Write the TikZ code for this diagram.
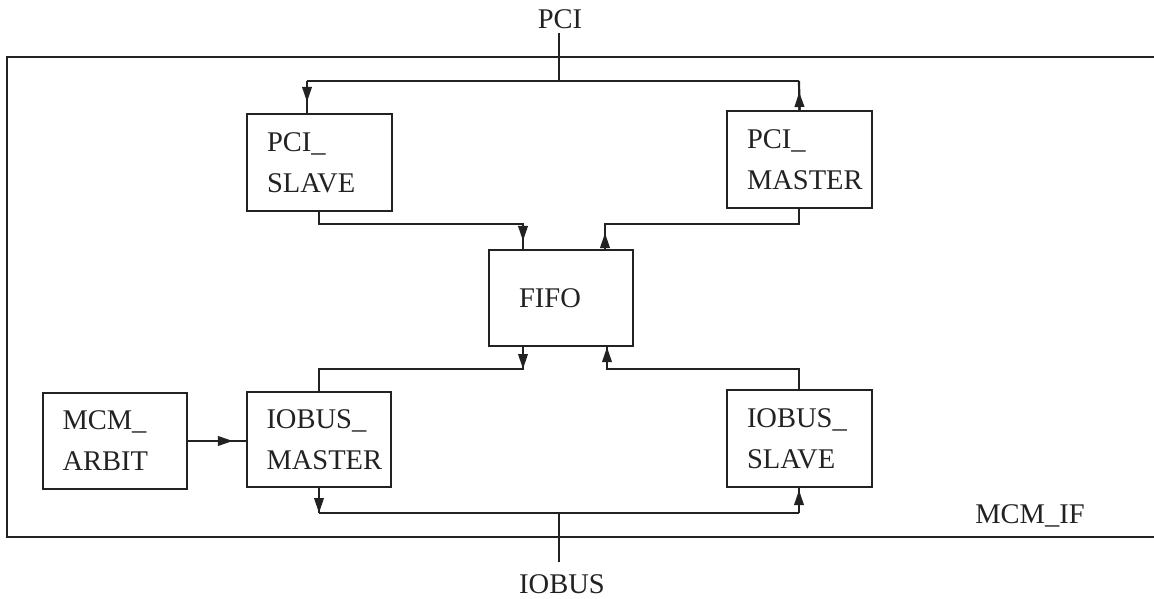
\documentclass[tikz,border=0pt]{standalone}
\usepackage{fontspec}
\setmainfont{Liberation Serif}
\usetikzlibrary{arrows.meta}
\definecolor{ink}{HTML}{222222}
\begin{document}
\begin{tikzpicture}[x=1pt,y=-1pt,
  line width=2.2pt, line join=miter, color=ink,
  font=\fontsize{28.5}{41}\selectfont,
  blk/.style={draw, minimum width=145pt, minimum height=97pt, inner sep=0pt,
    align=left, text width=105pt},
  lbl/.style={inner sep=0pt, anchor=base},
  tip/.style={-{Triangle[length=15pt,width=9.5pt]}},
]
\useasboundingbox (0,0) rectangle (1154,599);
% outer box MCM_IF
\node[draw, minimum width=1155pt, minimum height=480pt, inner sep=0pt] (mcmif) at (584.5,297) {};
\node[lbl] (lmcmif) at (1030,523) {MCM\_IF};
% labels
\node[lbl] (lpci) at (560,29) {PCI};
\node[lbl] (liobus) at (562,593) {IOBUS};
% blocks
\node[blk] (ps) at (319.5,162.5) {PCI\_\\SLAVE};
\node[blk] (pm) at (799.5,159.5) {PCI\_\\MASTER};
\node[blk, minimum width=144pt, minimum height=96pt, align=center, text width=100pt] (fifo) at (561,298) {\hspace*{-22pt}FIFO};
\node[blk, minimum width=144pt, minimum height=95pt] (im) at (319,439.5) {IOBUS\_\\MASTER};
\node[blk, minimum width=144pt, minimum height=96pt] (ar) at (115,441) {MCM\_\\ARBIT};
\node[blk] (is) at (799.5,438.5) {IOBUS\_\\SLAVE};
% helper coordinates
\coordinate (pcitop) at (559,33);
\coordinate (pcibus) at (559,81);
\coordinate (psbus) at (307,81);
\coordinate (pmbus) at (799,81);
\coordinate (iotop) at (559,562);
\coordinate (iobus) at (559,513);
\coordinate (imbus) at (319,513);
\coordinate (isbus) at (799,513);
% PCI bus
\draw (pcitop) -- (pcibus);
\draw (psbus) -- (pmbus);
\draw (psbus) -- (ps.north -| psbus);
\draw[tip, shorten >=11pt] (psbus) -- (ps.north -| psbus);
\draw (pm.north) -- (pmbus);
\draw[tip, shorten >=11pt] (pm.north) -- (pmbus);
% PCI_SLAVE -> FIFO
\coordinate (a1) at (319,224);
\coordinate (a2) at (523,224);
\draw (ps.south -| a1) -- (a1) -- (a2) -- (fifo.north -| a2);
\draw[tip, shorten >=8pt] (a2) -- (fifo.north -| a2);
% FIFO -> PCI_MASTER
\coordinate (b1) at (605,224);
\coordinate (b2) at (799,224);
\draw (fifo.north -| b1) -- (b1) -- (b2) -- (pm.south -| b2);
\draw[tip, shorten >=9pt] (fifo.north -| b1) -- (b1);
% FIFO -> IOBUS_MASTER
\coordinate (c1) at (523,369);
\coordinate (c2) at (319,369);
\draw (fifo.south -| c1) -- (c1) -- (c2) -- (im.north -| c2);
\draw[tip] (fifo.south -| c1) -- (c1);
% IOBUS_SLAVE -> FIFO
\coordinate (d1) at (799,369);
\coordinate (d2) at (607,369);
\draw (is.north -| d1) -- (d1) -- (d2) -- (fifo.south -| d2);
\draw[tip] (d2) -- (fifo.south -| d2);
% MCM_ARBIT -> IOBUS_MASTER
\draw (ar.east) -- (im.west |- ar.east);
\draw[tip, shorten >=13pt] (ar.east) -- (im.west |- ar.east);
% IOBUS bus
\draw (iotop) -- (iobus);
\draw (imbus) -- (isbus);
\draw (im.south) -- (imbus);
\draw[tip] (im.south) -- (imbus);
\draw (isbus) -- (is.south -| isbus);
\draw[tip, shorten >=2pt] (isbus) -- (is.south -| isbus);
\end{tikzpicture}
\end{document}
